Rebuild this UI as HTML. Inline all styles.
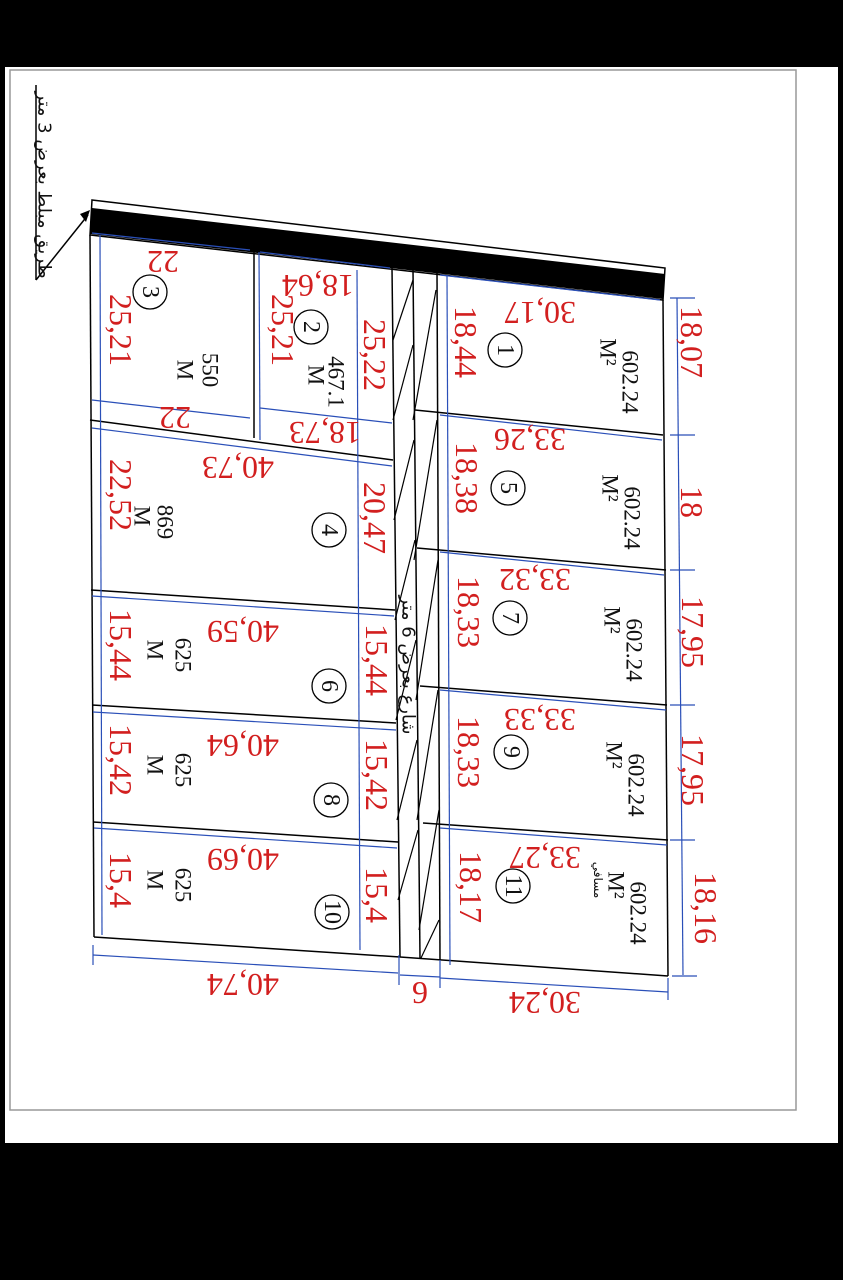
<!DOCTYPE html>
<html><head><meta charset="utf-8"><style>
html,body{margin:0;padding:0;background:#000;}
svg{display:block}
.r{fill:#d21f1f;font-family:"Liberation Serif",serif;font-size:32px}
.k{fill:#111;font-family:"Liberation Serif",serif;font-size:23px}
.c{fill:#111;font-family:"Liberation Serif",serif;font-size:24px}
.ar{fill:#111;font-family:"DejaVu Sans","Liberation Sans",sans-serif;font-size:17px}
</style></head><body>
<svg width="843" height="1280" viewBox="0 0 843 1280" xmlns="http://www.w3.org/2000/svg">
<rect width="843" height="1280" fill="#000"/>
<rect x="5" y="67" width="833" height="1076" fill="#fff"/>
<rect x="10" y="70" width="786" height="1040" fill="none" stroke="#999" stroke-width="1.5"/>

<polygon points="92,200 665,268 663,300 90,235" fill="#fff" stroke="#000" stroke-width="1.5"/>
<polygon points="92,208 665,274 663,299 90,234" fill="#000"/>

<g stroke="#000" stroke-width="1.5" fill="none">
<line x1="90" y1="235" x2="94" y2="937"/>
<line x1="392" y1="268" x2="400" y2="957"/>
<line x1="413" y1="270" x2="420" y2="958"/>
<line x1="437" y1="272" x2="440" y2="960"/>
<line x1="663" y1="300" x2="668" y2="976"/>
<line x1="254" y1="250" x2="254" y2="438"/>
<line x1="90" y1="420" x2="393" y2="460"/>
<line x1="91" y1="590" x2="395" y2="610"/>
<line x1="92" y1="705" x2="396" y2="723"/>
<line x1="93" y1="822" x2="398" y2="842"/>
<line x1="94" y1="937" x2="400" y2="957"/>
<line x1="415" y1="410" x2="663" y2="435"/>
<line x1="417" y1="548" x2="666" y2="570"/>
<line x1="420" y1="686" x2="667" y2="705"/>
<line x1="423" y1="823" x2="668" y2="840"/>
<line x1="400" y1="957" x2="668" y2="976"/>
<g stroke-width="1.2">
<line x1="393" y1="340" x2="413" y2="280"/>
<line x1="393" y1="420" x2="413" y2="345"/>
<line x1="394" y1="520" x2="414" y2="440"/>
<line x1="395" y1="620" x2="415" y2="540"/>
<line x1="396" y1="720" x2="416" y2="640"/>
<line x1="397" y1="820" x2="417" y2="740"/>
<line x1="398" y1="900" x2="418" y2="830"/>
<line x1="413" y1="420" x2="436" y2="290"/>
<line x1="414" y1="560" x2="437" y2="420"/>
<line x1="416" y1="700" x2="438" y2="560"/>
<line x1="417" y1="820" x2="438" y2="690"/>
<line x1="419" y1="930" x2="439" y2="810"/>
<line x1="421" y1="958" x2="439" y2="920"/>
</g>
<line x1="36" y1="85" x2="36" y2="280"/>
<line x1="36" y1="280" x2="88" y2="215"/>
</g>
<polygon points="90,210 80,214 86,222" fill="#000"/>

<g stroke="#2a4fb8" stroke-width="1.2" fill="none">
<line x1="100" y1="235" x2="102" y2="935"/>
<line x1="259" y1="252" x2="260" y2="440"/>
<line x1="357" y1="270" x2="360" y2="950"/>
<line x1="447" y1="275" x2="450" y2="965"/>
<line x1="677" y1="298" x2="683" y2="975"/>
<line x1="92" y1="233" x2="250" y2="250"/>
<line x1="260" y1="252" x2="390" y2="268"/>
<line x1="92" y1="400" x2="250" y2="418"/>
<line x1="260" y1="408" x2="392" y2="423"/>
<line x1="92" y1="428" x2="392" y2="466"/>
<line x1="440" y1="275" x2="660" y2="300"/>
<line x1="440" y1="415" x2="662" y2="440"/>
<line x1="440" y1="552" x2="664" y2="575"/>
<line x1="440" y1="690" x2="666" y2="710"/>
<line x1="440" y1="828" x2="667" y2="845"/>
<line x1="92" y1="596" x2="394" y2="616"/>
<line x1="93" y1="712" x2="396" y2="730"/>
<line x1="94" y1="828" x2="397" y2="848"/>
<line x1="93" y1="955" x2="398" y2="973"/>
<line x1="400" y1="975" x2="440" y2="977"/>
<line x1="440" y1="978" x2="668" y2="992"/>
<line x1="670" y1="298" x2="695" y2="298"/>
<line x1="670" y1="435" x2="695" y2="435"/>
<line x1="670" y1="570" x2="695" y2="570"/>
<line x1="670" y1="705" x2="695" y2="705"/>
<line x1="670" y1="840" x2="695" y2="840"/>
<line x1="672" y1="976" x2="697" y2="976"/>
<line x1="93" y1="945" x2="93" y2="965"/>
<line x1="399" y1="955" x2="399" y2="985"/>
<line x1="440" y1="960" x2="440" y2="988"/>
<line x1="668" y1="978" x2="668" y2="1000"/>
</g>

<g class="r" text-anchor="middle" dominant-baseline="central">
<text transform="translate(163,262) rotate(180)">22</text>
<text transform="translate(318,286) rotate(180)">18,64</text>
<text transform="translate(175,418) rotate(180)">22</text>
<text transform="translate(325,433) rotate(180)">18,73</text>
<text transform="translate(238,468) rotate(180)">40,73</text>
<text transform="translate(540,313) rotate(180)">30,17</text>
<text transform="translate(530,440) rotate(180)">33,26</text>
<text transform="translate(535,580) rotate(180)">33,32</text>
<text transform="translate(540,720) rotate(180)">33,33</text>
<text transform="translate(545,858) rotate(180)">33,27</text>
<text transform="translate(243,632) rotate(180)">40,59</text>
<text transform="translate(243,746) rotate(180)">40,64</text>
<text transform="translate(243,860) rotate(180)">40,69</text>
<text transform="translate(243,985) rotate(180)">40,74</text>
<text transform="translate(545,1003) rotate(180)">30,24</text>
<text x="420" y="992">9</text>
</g>
<g class="r" text-anchor="middle" dominant-baseline="central">
<text transform="translate(121,330) rotate(90)">25,21</text>
<text transform="translate(283,330) rotate(90)">25,21</text>
<text transform="translate(375,355) rotate(90)">25,22</text>
<text transform="translate(466,342) rotate(90)">18,44</text>
<text transform="translate(692,342) rotate(90)">18,07</text>
<text transform="translate(121,495) rotate(90)">22,52</text>
<text transform="translate(375,518) rotate(90)">20,47</text>
<text transform="translate(467,478) rotate(90)">18,38</text>
<text transform="translate(692,502) rotate(90)">18</text>
<text transform="translate(121,645) rotate(90)">15,44</text>
<text transform="translate(377,660) rotate(90)">15,44</text>
<text transform="translate(469,612) rotate(90)">18,33</text>
<text transform="translate(693,632) rotate(90)">17,95</text>
<text transform="translate(121,760) rotate(90)">15,42</text>
<text transform="translate(377,775) rotate(90)">15,42</text>
<text transform="translate(469,752) rotate(90)">18,33</text>
<text transform="translate(693,770) rotate(90)">17,95</text>
<text transform="translate(121,880) rotate(90)">15,4</text>
<text transform="translate(377,895) rotate(90)">15,4</text>
<text transform="translate(471,887) rotate(90)">18,17</text>
<text transform="translate(706,908) rotate(90)">18,16</text>
</g>
<g class="k" text-anchor="middle" dominant-baseline="central">
<text transform="translate(210,370) rotate(90)">550</text>
<text transform="translate(185,370) rotate(90)">M</text>
<text transform="translate(336,382) rotate(90)">467.1</text>
<text transform="translate(316,375) rotate(90)">M</text>
<text transform="translate(165,522) rotate(90)">869</text>
<text transform="translate(142,516) rotate(90)">M</text>
<text transform="translate(183,655) rotate(90)">625</text>
<text transform="translate(155,650) rotate(90)">M</text>
<text transform="translate(183,770) rotate(90)">625</text>
<text transform="translate(155,765) rotate(90)">M</text>
<text transform="translate(183,885) rotate(90)">625</text>
<text transform="translate(155,880) rotate(90)">M</text>
<text transform="translate(630,382) rotate(90)">602.24</text>
<text transform="translate(608,352) rotate(90)">M²</text>
<text transform="translate(632,518) rotate(90)">602.24</text>
<text transform="translate(610,488) rotate(90)">M²</text>
<text transform="translate(634,650) rotate(90)">602.24</text>
<text transform="translate(612,620) rotate(90)">M²</text>
<text transform="translate(636,785) rotate(90)">602.24</text>
<text transform="translate(614,755) rotate(90)">M²</text>
<text transform="translate(638,913) rotate(90)">602.24</text>
<text transform="translate(616,885) rotate(90)">M²</text>
</g>
<g fill="none" stroke="#000" stroke-width="1.3">
<circle cx="150" cy="292" r="17"/><circle cx="311" cy="327" r="17"/><circle cx="505" cy="350" r="17"/>
<circle cx="329" cy="530" r="17"/><circle cx="508" cy="488" r="17"/><circle cx="510" cy="618" r="17"/>
<circle cx="329" cy="686" r="17"/><circle cx="511" cy="752" r="17"/><circle cx="331" cy="800" r="17"/>
<circle cx="513" cy="886" r="17"/><circle cx="332" cy="912" r="17"/>
</g>
<g class="c" text-anchor="middle" dominant-baseline="central">
<text transform="translate(150,292) rotate(90)">3</text>
<text transform="translate(311,327) rotate(90)">2</text>
<text transform="translate(505,350) rotate(90)">1</text>
<text transform="translate(329,530) rotate(90)">4</text>
<text transform="translate(508,488) rotate(90)">5</text>
<text transform="translate(510,618) rotate(90)">7</text>
<text transform="translate(329,686) rotate(90)">6</text>
<text transform="translate(511,752) rotate(90)">9</text>
<text transform="translate(331,800) rotate(90)">8</text>
<text transform="translate(513,886) rotate(90)">11</text>
<text transform="translate(332,912) rotate(90)">10</text>
</g>
<g class="ar" text-anchor="middle" dominant-baseline="central">
<text transform="translate(44,185) rotate(90)" font-size="18">طريق مبلط بعرض 3 متر</text>
<text transform="translate(408,665) rotate(90)" font-size="18">شارع بعرض 6 متر</text>
<text transform="translate(598,880) rotate(90)" font-size="12">مسافي</text>
</g>
</svg>
</body></html>
